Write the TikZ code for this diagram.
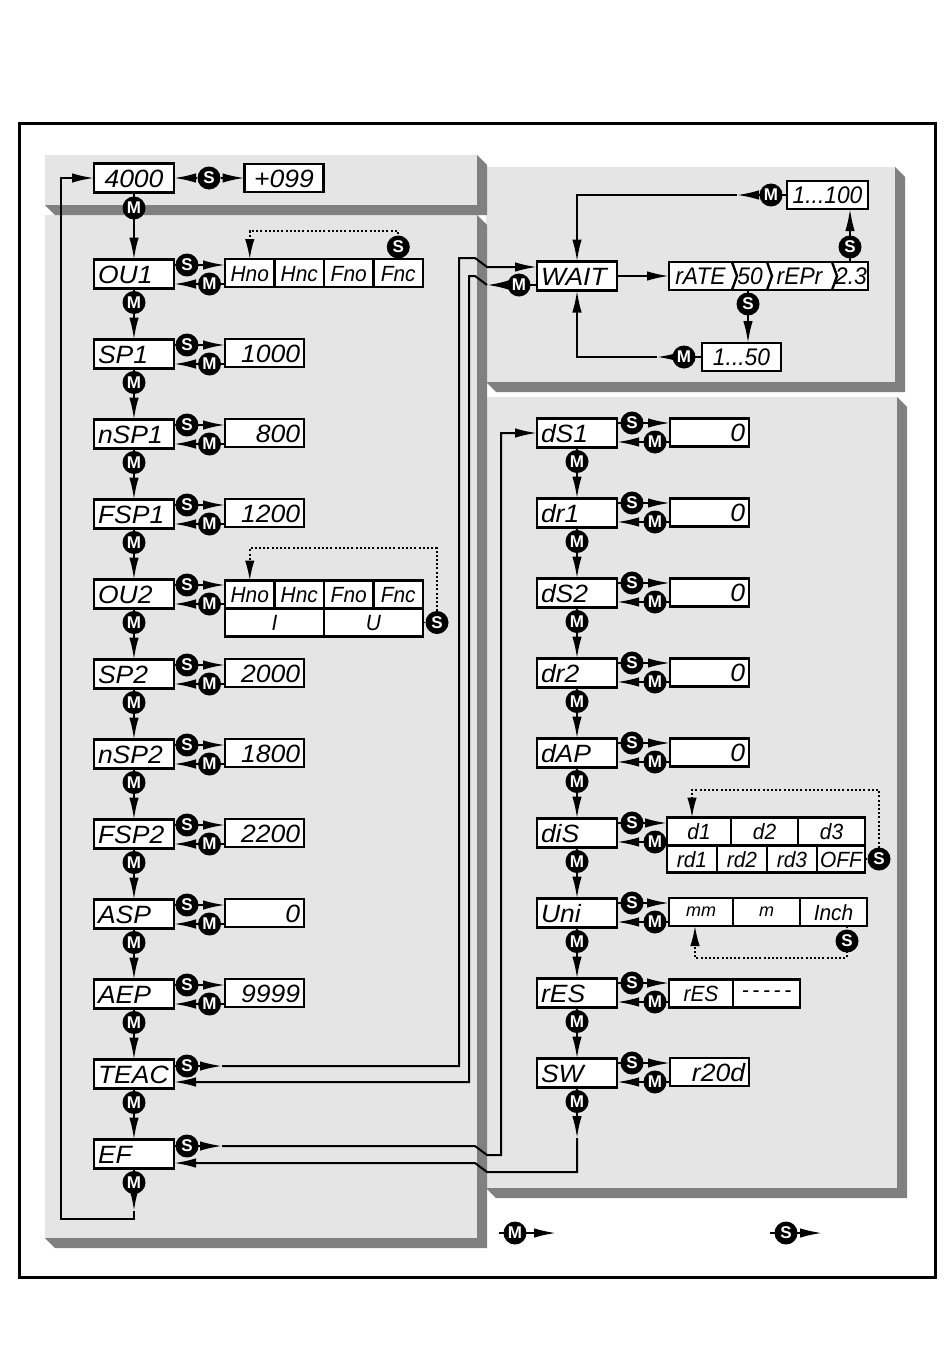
\documentclass[tikz,border=0pt]{standalone}
\usepackage{fontspec}
\usetikzlibrary{arrows.meta,calc}
\newfontfamily\segf{Liberation Sans}
\newfontfamily\circf{Liberation Sans}
\newcommand\segL{\segf\itshape\addfontfeature{FakeStretch=1.06}\fontsize{25}{25}\selectfont}
\newcommand\segM{\segf\itshape\addfontfeature{FakeStretch=0.95}\fontsize{22}{22}\selectfont}
\newcommand\segR{\segf\itshape\addfontfeature{FakeStretch=0.95}\fontsize{24}{24}\selectfont}
\newcommand\segS{\segf\itshape\fontsize{18}{18}\selectfont}
\newcommand\circfont{\circf\bfseries\fontsize{17}{17}\selectfont}
\definecolor{panelgray}{gray}{0.9}
\definecolor{shadowgray}{gray}{0.5}
\pgfdeclarelayer{panels}
\pgfdeclarelayer{lines}
\pgfsetlayers{panels,lines,main}
\newcommand\panelbox[4]{%
  \fill[shadowgray] (#1,#2) -- (#3,#2) -- ({#3+10},{#2+10}) -- ({#3+10},{#4+10}) -- ({#1+10},{#4+10}) -- (#1,#4) -- cycle;
  \fill[panelgray] (#1,#2) rectangle (#3,#4);}
\begin{document}
\begin{tikzpicture}[x=1pt,y=-1pt]
\tikzset{
  dispbox/.style={draw, line width=2.2pt, fill=white, inner ysep=0pt, outer sep=0pt},
  lbl/.style={dispbox, minimum width=80pt, minimum height=29pt, text width=72pt, inner xsep=4pt, align=left, font=\segL, text height=18pt, text depth=0pt},
  val/.style={dispbox, minimum width=79pt, minimum height=28pt, text width=71pt, inner xsep=4pt, align=right, font=\segL, text height=18pt, text depth=0pt},
  cval/.style={dispbox, minimum height=28pt, inner xsep=0pt, font=\segR, text height=17pt, text depth=0pt},
  cell/.style={dispbox, minimum height=28pt, inner xsep=0pt, font=\segM, text height=16pt, text depth=0pt},
  circ/.style={circle, fill=black, text=white, minimum size=23pt, inner sep=0pt, font=\circfont},
  arr/.style={line width=2pt, -{Latex[length=22pt,width=9.5pt]}},
  dotarr/.style={line width=1.7pt, dash pattern=on 2pt off 2.2pt, -{Latex[length=20pt,width=9.5pt]}},
  txt/.style={inner sep=0pt, font=\segR, text height=17pt, text depth=0pt},
}
\useasboundingbox (0,0) rectangle (950,1365);
\begin{pgfonlayer}{panels}
\fill[white] (0,0) rectangle (950,1365);
\panelbox{486}{167}{895}{382}
\panelbox{486}{397}{897}{1188}
\panelbox{45}{215}{477}{1238}
\panelbox{45}{155}{477}{205}
\end{pgfonlayer}

% ---------- top row
\node[lbl, align=center] (n4000) at (134,178) {4000};
\node[val, align=center] (n099) at (284,178) {+099};
\node[circ] (s0) at (209,178) {S};
\node[circ] (m0) at (134,208) {M};

% ---------- left column
\foreach \lab [count=\i] in {OU1,SP1,nSP1,FSP1,OU2,SP2,nSP2,FSP2,ASP,AEP,TEAC,EF}
  \node[lbl] (L\i) at (134,{194+80*\i}) {\lab};
\foreach \i in {1,...,12}
  \node[circ] (mL\i) at (134,{194+80*\i+28.5}) {M};
\foreach \i/\v in {2/1000,3/800,4/1200,6/2000,7/1800,8/2200,9/0,10/9999}
  \node[val] (V\i) at (264.5,{193+80*\i}) {\v};
\foreach \t/\x [count=\k] in {Hno/249.75,Hnc/299.25,Fno/348.75,Fnc/398.25}
  \node[cell, minimum width=49.5pt] (oa\k) at (\x,273) {\t};
\foreach \t/\x [count=\k] in {Hno/249.75,Hnc/299.25,Fno/348.75,Fnc/398.25}
  \node[cell, minimum width=49.5pt] (ob\k) at (\x,594.5) {\t};
\node[cell, minimum width=99pt] (obI) at (274.5,622.5) {I};
\node[cell, minimum width=99pt] (obU) at (373.5,622.5) {U};
\foreach \i in {1,...,10}{
  \node[circ] (sL\i) at (187,{194+80*\i-9}) {S};
  \node[circ] (mR\i) at (209.5,{194+80*\i+10}) {M};
}
\node[circ] (sL11) at (187,1066) {S};
\node[circ] (sL12) at (187,1146) {S};
\node[circ] (sOa) at (398.25,247) {S};
\node[circ] (sOb) at (437,622.5) {S};
\coordinate (dOa1) at (398.25,231);
\coordinate (dOa2) at (249.75,231);
\coordinate (dOb1) at (437,548);
\coordinate (dOb2) at (249.75,548);

% ---------- right column
\foreach \lab [count=\i] in {dS1,dr1,dS2,dr2,dAP,diS,Uni,rES,SW}
  \node[lbl] (R\i) at (577,{353+80*\i}) {\lab};
\foreach \i in {1,...,9}
  \node[circ] (mD\i) at (577,{353+80*\i+28.5}) {M};
\foreach \i in {1,...,5}
  \node[val] (W\i) at (709.5,{352.5+80*\i}) {0};
\node[val] (W9) at (709.5,1072) {r20d};
\node[cell, minimum width=64pt] (dd1) at (699,831.5) {d1};
\node[cell, minimum width=67pt] (dd2) at (764.5,831.5) {d2};
\node[cell, minimum width=67pt] (dd3) at (831.5,831.5) {d3};
\node[cell, minimum width=50pt, minimum height=27pt] (de1) at (692,859) {rd1};
\node[cell, minimum width=50pt, minimum height=27pt] (de2) at (742,859) {rd2};
\node[cell, minimum width=50pt, minimum height=27pt] (de3) at (792,859) {rd3};
\node[cell, minimum width=48pt, minimum height=27pt] (de4) at (841,859) {OFF};
\node[cell, minimum width=64pt, text height=9pt] (um1) at (701,912) {\segS mm};
\node[cell, minimum width=67pt, text height=9pt] (um2) at (766.5,912) {\segS m};
\node[cell, minimum width=67pt] (um3) at (833.5,912) {Inch};
\node[cell, minimum width=64pt] (rr1) at (701,993.5) {rES};
\node[cell, minimum width=67pt, text height=8pt] (rr2) at (766.5,993.5) {-\,-\,-\,-\,-};
\foreach \i in {1,...,9}{
  \node[circ] (sR\i) at (632,{353+80*\i-10}) {S};
  \node[circ] (mQ\i) at (655,{353+80*\i+9}) {M};
}
\node[circ] (sDs) at (879,859) {S};
\coordinate (dDs1) at (879,790);
\coordinate (dDs2) at (692,790);
\coordinate (dDs3) at (692,817.5);
\node[circ] (sUn) at (847,941) {S};
\coordinate (dUn0) at (847,926);
\coordinate (dUn1) at (847,958);
\coordinate (dUn2) at (695,958);
\coordinate (dUn3) at (695,926);

% ---------- WAIT block
\node[lbl] (wait) at (577,276) {WAIT};
\node[dispbox, minimum width=199pt, minimum height=28pt, inner sep=0pt] (rate) at (768.5,276) {};
\node[txt] (rt1) at (700.5,276) {rATE};
\node[txt] (rt2) at (750,276) {50};
\node[txt] (rt3) at (799.5,276) {rEPr};
\node[txt] (rt4) at (851,276) {2.3};
\foreach \x in {732,767,832}
  \draw[line width=2.4pt] (\x,262) -- ({\x+5},276) -- (\x,290);
\node[cval, minimum width=79pt] (b50) at (741.5,357) {1...50};
\node[cval, minimum width=81pt] (b100) at (827.5,195) {1...100};
\node[circ] (sW1) at (748,304) {S};
\node[circ] (sW2) at (850,247) {S};
\node[circ] (mW1) at (684,357) {M};
\node[circ] (mW2) at (771,195) {M};
\node[circ] (mWait) at (519,285) {M};
\coordinate (p50) at (748,290);
\coordinate (p23) at (850,262);
\coordinate (pM1) at (657,357);
\coordinate (pM2) at (737,195);

% coordinates for long connectors
\coordinate (tS1) at (222,1066);
\coordinate (tA) at (459,1066);
\coordinate (tB) at (459,258);
\coordinate (tC) at (475,258);
\coordinate (tD) at (487,267);
\coordinate (rD) at (487,285);
\coordinate (rC) at (475,276);
\coordinate (rB) at (469,276);
\coordinate (rA) at (469,1082);
\coordinate (eS1) at (222,1146);
\coordinate (eA) at (475,1146);
\coordinate (eB) at (487,1155);
\coordinate (eC) at (501,1155);
\coordinate (eD) at (501,433);
\coordinate (sw1) at (577,1138);
\coordinate (sw2) at (577,1172);
\coordinate (sw3) at (487,1172);
\coordinate (sw4) at (475,1163);
\coordinate (lb0) at (134,1211);
\coordinate (lb1) at (134,1219);
\coordinate (lb2) at (61,1219);

% ---------- legend
\node[circ] (lgM) at (515,1233) {M};
\node[circ] (lgS) at (786,1233) {S};
\coordinate (lgM0) at (499,1233);
\coordinate (lgM1) at (556,1233);
\coordinate (lgS0) at (770,1233);
\coordinate (lgS1) at (822,1233);

% ---------- frame
\draw[line width=3pt] (19,123) rectangle (935,1277);

% ---------- connectors
\begin{pgfonlayer}{lines}
\draw[arr] (s0) -- (n4000.east);
\draw[arr] (s0) -- (n099.west);
\draw[arr] (n4000.south) -- (L1.north);
\foreach \i [evaluate=\i as \j using int(\i+1)] in {1,...,11}
  \draw[arr] (L\i.south) -- (L\j.north);
\foreach \i/\v in {1/oa1,2/V2,3/V3,4/V4,5/ob1,6/V6,7/V7,8/V8,9/V9,10/V10}{
  \draw[arr] (L\i.east |- sL\i) -- (\v.west |- sL\i);
  \draw[arr] (\v.west |- mR\i) -- (L\i.east |- mR\i);
}
\draw[dotarr] (oa4.north) -- (dOa1) -- (dOa2) -- (oa1.north);
\draw[dotarr] (obU.east) -- (sOb.center) -- (dOb1) -- (dOb2) -- (ob1.north);

\foreach \i [evaluate=\i as \j using int(\i+1)] in {1,...,8}
  \draw[arr] (R\i.south) -- (R\j.north);
\foreach \i/\v in {1/W1,2/W2,3/W3,4/W4,5/W5,6/dd1,7/um1,8/rr1,9/W9}{
  \draw[arr] (R\i.east |- sR\i) -- (\v.west |- sR\i);
  \draw[arr] (\v.west |- mQ\i) -- (R\i.east |- mQ\i);
}
\draw[dotarr] (de4.east) -- (sDs.center) -- (dDs1) -- (dDs2) -- (dDs3);
\draw[dotarr] (dUn0) -- (sUn.center) -- (dUn1) -- (dUn2) -- (dUn3);

\draw[arr] (wait.east) -- (rate.west);
\draw[arr] (p50) -- (b50.north -| p50);
\draw[arr] (p23) -- (b100.south -| p23);
\draw[arr] (b50.west) -- (pM1);
\draw[arr] (pM1) -| (wait.south);
\draw[arr] (b100.west) -- (pM2);
\draw[arr] (pM2) -| (wait.north);

\draw[arr] (L11.east |- sL11) -- (tS1);
\draw[arr] (tS1) -- (tA) -- (tB) -- (tC) -- (tD) -- ([yshift=9pt]wait.west);
\draw[arr] ([yshift=-9pt]wait.west) -- (rD);
\draw[arr] (rD) -- (rC) -- (rB) -- (rA) -- (L11.east |- rA);

\draw[arr] (L12.east |- sL12) -- (eS1);
\draw[arr] (eS1) -- (eA) -- (eB) -- (eC) -- (eD) -- (R1.west);
\draw[arr] (R9.south) -- (sw1);
\draw[arr] (sw1) -- (sw2) -- (sw3) -- (sw4) -- (L12.east |- sw4);

\draw[arr] (L12.south) -- (lb0);
\draw[arr] (lb0) -- (lb1) -- (lb2) |- (n4000.west);

\draw[arr] (lgM0) -- (lgM1);
\draw[arr] (lgS0) -- (lgS1);
\end{pgfonlayer}
\end{tikzpicture}
\end{document}
